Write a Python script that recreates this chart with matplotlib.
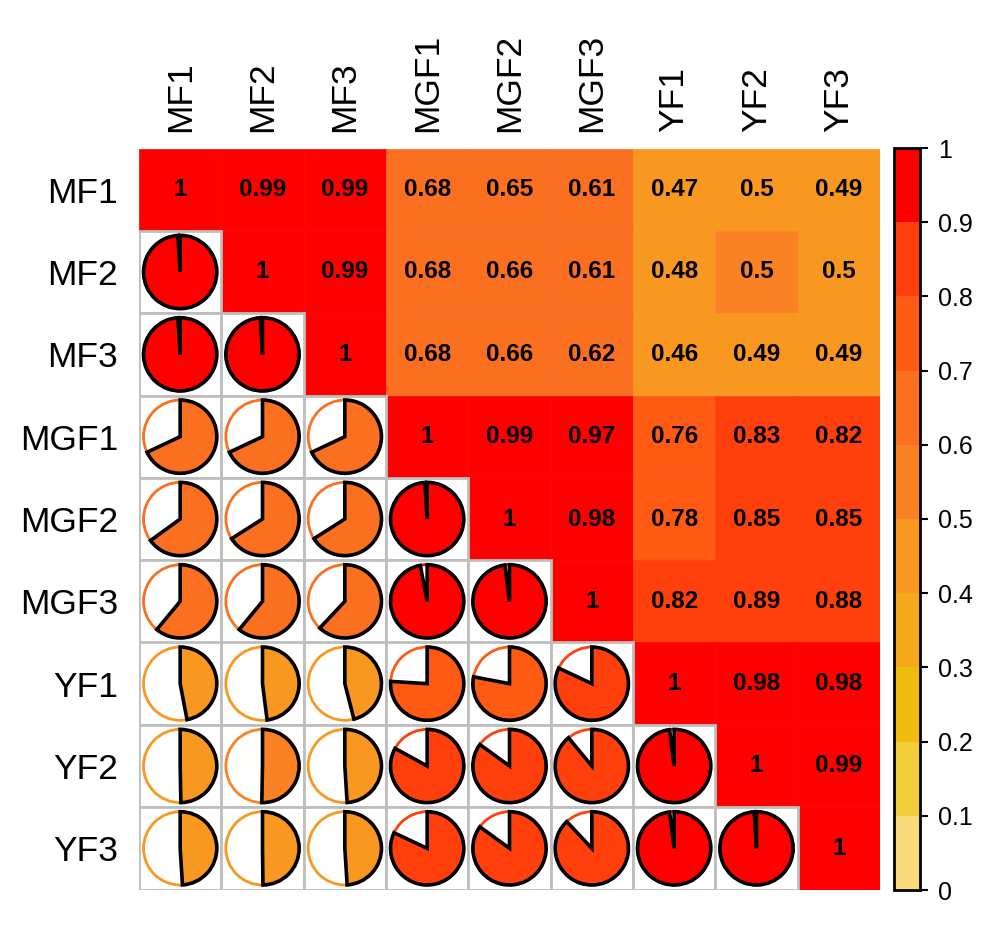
import matplotlib
matplotlib.use("Agg")
import matplotlib.pyplot as plt
import numpy as np
from matplotlib.patches import Rectangle, Wedge, Circle
from matplotlib.colors import ListedColormap, BoundaryNorm
from matplotlib.cm import ScalarMappable

plt.rcParams['font.family'] = ['Liberation Sans', 'DejaVu Sans']

labels = ["MF1", "MF2", "MF3", "MGF1", "MGF2", "MGF3", "YF1", "YF2", "YF3"]

corr = np.array([
    [1.00, 0.99, 0.99, 0.68, 0.65, 0.61, 0.47, 0.497, 0.49],
    [0.99, 1.00, 0.99, 0.68, 0.66, 0.61, 0.48, 0.503, 0.498],
    [0.99, 0.99, 1.00, 0.68, 0.66, 0.62, 0.46, 0.49, 0.49],
    [0.68, 0.68, 0.68, 1.00, 0.99, 0.97, 0.76, 0.83, 0.82],
    [0.65, 0.66, 0.66, 0.99, 1.00, 0.98, 0.78, 0.85, 0.85],
    [0.61, 0.61, 0.62, 0.97, 0.98, 1.00, 0.82, 0.89, 0.88],
    [0.47, 0.48, 0.46, 0.76, 0.78, 0.82, 1.00, 0.98, 0.98],
    [0.497, 0.503, 0.49, 0.83, 0.85, 0.89, 0.98, 1.00, 0.99],
    [0.49, 0.498, 0.49, 0.82, 0.85, 0.88, 0.98, 0.99, 1.00],
])

bin_colors = ["#F9DB7E", "#F2CD3A", "#F0BC0E", "#F5A81B", "#F99820",
              "#FB8224", "#FA7020", "#FE5A14", "#FF400C", "#FF0000"]
bounds = np.linspace(0, 1, 11)
cbar_ticks = [0, 0.1, 0.2, 0.3, 0.4, 0.5, 0.6, 0.7, 0.8, 0.9, 1]
cbar_ticklabels = ["0", "0.1", "0.2", "0.3", "0.4", "0.5", "0.6", "0.7", "0.8", "0.9", "1"]

cmap = ListedColormap(bin_colors)
norm = BoundaryNorm(bounds, cmap.N)

def col_of(v):
    idx = min(int(np.floor(v * 10)), 9)
    return bin_colors[idx]

W, H = 993, 936
fig = plt.figure(figsize=(W / 100, H / 100), dpi=100)
ax = fig.add_axes([139 / W, 1 - 890 / H, 741 / W, 742 / H])
n = len(labels)
ax.set_xlim(0, n)
ax.set_ylim(0, n)
ax.set_aspect('equal', adjustable='box')

r = 0.445
for i in range(n):
    for j in range(n):
        v = corr[i, j]
        x0 = j
        y0 = n - 1 - i
        c = col_of(v)
        if j >= i:
            ax.add_patch(Rectangle((x0, y0), 1, 1, facecolor=c, edgecolor=c, lw=0.5, zorder=1))
            ax.text(x0 + 0.5, y0 + 0.5, f"{round(v, 2):g}", ha='center', va='center',
                    fontsize=17.5, fontweight='bold', color='black', zorder=5)
        else:
            ax.add_patch(Rectangle((x0, y0), 1, 1, facecolor='white', edgecolor='#BEBEBE', lw=2.0, zorder=2))
            cx, cy = x0 + 0.5, y0 + 0.5
            ax.add_patch(Circle((cx, cy), r, facecolor='white', edgecolor=c, lw=2.0, zorder=3))
            ax.add_patch(Wedge((cx, cy), r, 90 - 360 * v, 90, facecolor=c,
                               edgecolor='black', lw=2.6, zorder=4))

ax.set_xticks(np.arange(n) + 0.5)
ax.set_xticklabels(labels, rotation=90, fontsize=25.5)
ax.set_yticks(np.arange(n) + 0.5)
ax.set_yticklabels(labels[::-1], fontsize=25.5)
ax.xaxis.tick_top()
ax.tick_params(axis='y', length=0, pad=15)
ax.tick_params(axis='x', length=0, pad=12)
for s in ax.spines.values():
    s.set_visible(False)

cax = fig.add_axes([894 / W, 1 - 890 / H, 26 / W, 742 / H])
sm = ScalarMappable(norm=norm, cmap=cmap)
cb = fig.colorbar(sm, cax=cax, ticks=cbar_ticks)
cb.set_ticklabels(cbar_ticklabels)
cb.outline.set_linewidth(2)
cax.tick_params(labelsize=18, length=6, width=1.5, pad=7)

fig.savefig("out.png", dpi=100)
